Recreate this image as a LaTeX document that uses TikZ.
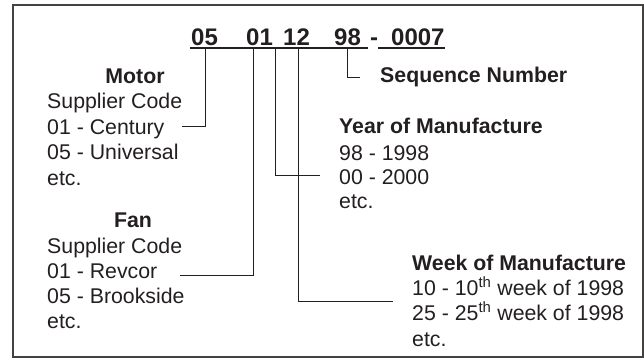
\documentclass[tikz,border=0pt]{standalone}
\usepackage{fontspec}
\setmainfont{Liberation Sans}
\begin{document}
\begin{tikzpicture}[x=1pt,y=-1pt,
  txt/.style={anchor=base west,inner sep=0pt,text=ink,font=\fontsize{21.3}{25}\selectfont},
  bold/.style={anchor=base west,inner sep=0pt,text=ink,font=\fontsize{21.3}{25}\selectfont\bfseries},
  head/.style={anchor=base,inner sep=0pt,text=ink,font=\fontsize{21.3}{25}\selectfont\bfseries},
  code/.style={anchor=base west,inner sep=0pt,text=ink,font=\fontsize{24}{28}\selectfont\bfseries},
  conn/.style={draw=ink,line width=1pt},
  uline/.style={draw=ink,line width=1.8pt}]
\definecolor{ink}{HTML}{231F20}
\useasboundingbox (0,0) rectangle (644,360);
\draw[draw=ink!85,line width=1.6pt] (13,5) rectangle (643,357);
% code line
\node[code] (n05) at (191,45) {05};
\node[code] (n01) at (246,45) {01};
\node[code] (n12) at (283,45) {12};
\node[code] (n98) at (334,45) {98};
\node[code] (ndash) at (370,45) {-};
\node[code] (n0007) at (391,45) {0007};
\coordinate (uA) at (190,48);
\coordinate (uB) at (368,48);
\coordinate (uC) at (378,48);
\coordinate (uD) at (445,48);
\draw[uline] (uA) -- (uB);
\draw[uline] (uC) -- (uD);
\coordinate (t05) at (205,48);
\coordinate (t01) at (253,48);
\coordinate (t01b) at (275,48);
\coordinate (t12) at (298,48);
\coordinate (t98) at (347,48);
% Sequence
\node[bold] (seq) at (380,82) {Sequence Number};
\coordinate (eSeq) at (360,77);
% Motor block
\node[head] (motor) at (135,83) {Motor};
\node[txt] (m1) at (47,108) {Supplier Code};
\node[txt] (m2) at (47,134) {01 - Century};
\node[txt] (m3) at (47,159) {05 - Universal};
\node[txt] (m4) at (47,185) {etc.};
\coordinate (eMotor) at (182,126);
% Fan block
\node[head] (fan) at (133,227) {Fan};
\node[txt] (f1) at (47,253) {Supplier Code};
\node[txt] (f2) at (47,278) {01 - Revcor};
\node[txt] (f3) at (47,303) {05 - Brookside};
\node[txt] (f4) at (47,328) {etc.};
\coordinate (eFan) at (180,275);
% Year block
\node[bold] (year) at (339,133) {Year of Manufacture};
\node[txt] (y1) at (339,160) {98 - 1998};
\node[txt] (y2) at (339,184) {00 - 2000};
\node[txt] (y3) at (339,208) {etc.};
\coordinate (eYear) at (320,175);
% Week block
\node[bold] (week) at (412,270) {Week of Manufacture};
\node[txt] (w1) at (412,295) {10 - 10\textsuperscript{th} week of 1998};
\node[txt] (w2) at (412,320) {25 - 25\textsuperscript{th} week of 1998};
\node[txt] (w3) at (412,346) {etc.};
\coordinate (eWeek) at (393,301);
% connectors
\draw[conn] (t05) |- (eMotor);
\draw[conn] (t01) |- (eFan);
\draw[conn] (t01b) |- (eYear);
\draw[conn] (t12) |- (eWeek);
\draw[conn] (t98) |- (eSeq);
\end{tikzpicture}
\end{document}
